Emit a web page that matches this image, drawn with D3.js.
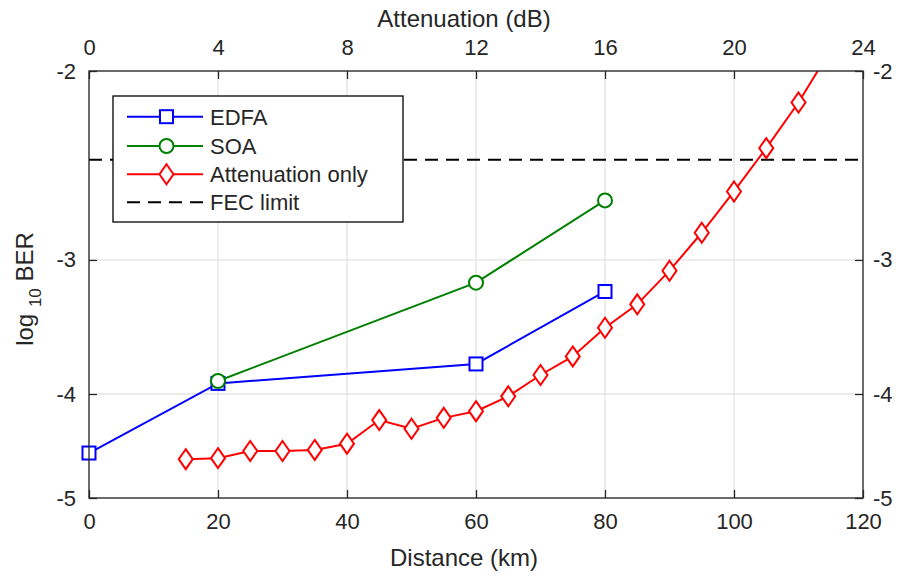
<!DOCTYPE html>
<html>
<head>
<meta charset="utf-8">
<script src="https://cdn.jsdelivr.net/npm/d3@7"></script>
<style>
  html, body { margin: 0; padding: 0; background: #fff; }
  text { font-family: "Liberation Sans", Arial, Helvetica, sans-serif; fill: #262626; }
</style>
</head>
<body>
<svg id="chart" width="899" height="577"></svg>
<script>
// ---- data ----
const distanceTicks = [0, 20, 40, 60, 80, 100, 120];
const attenuationTicks = [0, 4, 8, 12, 16, 20, 24];
const berTicks = [-2, -3, -4, -5];

const edfaDistance = [0, 20, 60, 80];
const edfaBER = [-4.54, -3.91, -3.75, -3.21];

const soaDistance = [20, 60, 80];
const soaBER = [-3.89, -3.15, -2.64];

const attDistance = [15, 20, 25, 30, 35, 40, 45, 50, 55, 60, 65, 70, 75, 80, 85, 90, 95, 100, 105, 110, 115];
const attBER = [-4.60, -4.59, -4.52, -4.52, -4.51, -4.45, -4.23, -4.31, -4.21, -4.15, -4.02,
                -3.84, -3.69, -3.47, -3.30, -3.07, -2.83, -2.59, -2.36, -2.14, -1.91];

const fecLimit = -2.42; // log10(3.8e-3)

const legendLabels = ["EDFA", "SOA", "Attenuation only", "FEC limit"];

// ---- layout ----
const W = 899, H = 577;
const L = 89, R = 863, T = 71, B = 498;
const axisColor = "#262626";
const gridColor = "#e3e3e3";

const svg = d3.select("#chart");
svg.append("rect").attr("width", W).attr("height", H).attr("fill", "#fff");

const x = d3.scaleLinear().domain([0, 120]).range([L, R]);
const xTop = d3.scaleLinear().domain([0, 24]).range([L, R]);
// BER axis: log scale on the magnitude of log10(BER)
const yMag = d3.scaleLog().domain([2, 5]).range([T, B]);
const y = v => yMag(-v);
const inside = v => -v >= 2 && -v <= 5;

// grid
const grid = svg.append("g");
grid.selectAll("line.gx").data(distanceTicks).join("line")
  .attr("x1", d => x(d)).attr("x2", d => x(d)).attr("y1", T).attr("y2", B)
  .attr("stroke", gridColor).attr("stroke-width", 1.3);
grid.selectAll("line.gy").data(berTicks).join("line")
  .attr("x1", L).attr("x2", R).attr("y1", d => y(d)).attr("y2", d => y(d))
  .attr("stroke", gridColor).attr("stroke-width", 1.3);

// axes (ticks inward)
const tickLen = 8;
const fontTick = 22;
function styleAxis(g) {
  g.select(".domain").remove();
  g.selectAll(".tick line").attr("stroke", axisColor).attr("stroke-width", 1.3);
  g.selectAll(".tick text").attr("font-size", fontTick).attr("fill", axisColor)
    .style("font-family", "'Liberation Sans', Arial, sans-serif");
}
svg.append("g").attr("transform", `translate(0,${B})`)
  .call(d3.axisBottom(x).tickValues(distanceTicks).tickSize(-tickLen).tickPadding(15).tickFormat(d3.format("d")))
  .call(styleAxis);
svg.append("g").attr("transform", `translate(0,${T})`)
  .call(d3.axisTop(xTop).tickValues(attenuationTicks).tickSize(-tickLen).tickPadding(16).tickFormat(d3.format("d")))
  .call(styleAxis);
const yAxisScale = d3.scaleLog().domain([2, 5]).range([T, B]);
const yTickVals = berTicks.map(v => -v);
svg.append("g").attr("transform", `translate(${L},0)`)
  .call(d3.axisLeft(yAxisScale).tickValues(yTickVals).tickSize(-tickLen).tickPadding(13).tickFormat(d => "-" + d))
  .call(styleAxis);
svg.append("g").attr("transform", `translate(${R},0)`)
  .call(d3.axisRight(yAxisScale).tickValues(yTickVals).tickSize(-tickLen).tickPadding(10).tickFormat(d => "-" + d))
  .call(styleAxis);

// FEC limit
svg.append("line")
  .attr("x1", L).attr("x2", R).attr("y1", y(fecLimit)).attr("y2", y(fecLimit))
  .attr("stroke", "#000").attr("stroke-width", 2).attr("stroke-dasharray", "13,8");

// clip region for the connecting lines
svg.append("clipPath").attr("id", "plotClip")
  .append("rect").attr("x", L).attr("y", T).attr("width", R - L).attr("height", B - T);
const plot = svg.append("g");

const line = d3.line().x(d => x(d[0])).y(d => y(d[1]));

function drawMarker(g, type, cx, cy, color) {
  if (type === "square") {
    g.append("rect").attr("x", cx - 6.5).attr("y", cy - 6.5).attr("width", 13).attr("height", 13)
      .attr("fill", "#fff").attr("stroke", color).attr("stroke-width", 2);
  } else if (type === "circle") {
    g.append("circle").attr("cx", cx).attr("cy", cy).attr("r", 7)
      .attr("fill", "#fff").attr("stroke", color).attr("stroke-width", 2);
  } else {
    g.append("path").attr("d", `M${cx},${cy - 10}L${cx + 7},${cy}L${cx},${cy + 10}L${cx - 7},${cy}Z`)
      .attr("fill", "#fff").attr("stroke", color).attr("stroke-width", 2);
  }
}

const series = [
  { xs: edfaDistance, ys: edfaBER, color: "#0000ff", marker: "square" },
  { xs: soaDistance, ys: soaBER, color: "#008000", marker: "circle" },
  { xs: attDistance, ys: attBER, color: "#ff0000", marker: "diamond" }
];

series.forEach(s => {
  const pts = s.xs.map((d, i) => [d, s.ys[i]]);
  const g = plot.append("g");
  g.append("path").attr("d", line(pts)).attr("fill", "none")
    .attr("clip-path", "url(#plotClip)")
    .attr("stroke", s.color).attr("stroke-width", 2);
  pts.filter(p => inside(p[1]))
    .forEach(p => drawMarker(g, s.marker, x(p[0]), y(p[1]), s.color));
});

// axes box
svg.append("rect").attr("x", L).attr("y", T).attr("width", R - L).attr("height", B - T)
  .attr("fill", "none").attr("stroke", axisColor).attr("stroke-width", 1.3);

// axis labels
const labelX = 464;
svg.append("text").attr("x", labelX).attr("y", 566).attr("text-anchor", "middle")
  .attr("font-size", 24).text("Distance (km)");
svg.append("text").attr("x", labelX).attr("y", 27).attr("text-anchor", "middle")
  .attr("font-size", 24).text("Attenuation (dB)");

const yl = svg.append("text").attr("transform", `translate(33,289) rotate(-90)`)
  .attr("text-anchor", "middle").attr("font-size", 24);
yl.append("tspan").text("log ");
yl.append("tspan").attr("font-size", 17).attr("dy", 8).text("10");
yl.append("tspan").attr("dy", -8).text(" BER");

// legend
const lg = svg.append("g");
lg.append("rect").attr("x", 113).attr("y", 96).attr("width", 290).attr("height", 126)
  .attr("fill", "#fff").attr("stroke", "#000").attr("stroke-width", 1.3);
const legendY = [116.7, 146, 174.3, 202.3];
const legendItems = [
  { color: "#0000ff", marker: "square" },
  { color: "#008000", marker: "circle" },
  { color: "#ff0000", marker: "diamond" },
  { color: "#000", marker: null }
];
legendItems.forEach((it, i) => {
  const ly = legendY[i];
  const ln = lg.append("line").attr("x1", 127).attr("x2", 203).attr("y1", ly).attr("y2", ly)
    .attr("stroke", it.color).attr("stroke-width", 2);
  if (it.marker) drawMarker(lg, it.marker, 166.5, ly, it.color);
  else ln.attr("stroke-dasharray", "13,8");
  lg.append("text").attr("x", 210).attr("y", ly + 8).attr("font-size", 22)
    .attr("fill", "#000").text(legendLabels[i]);
});
</script>
</body>
</html>
